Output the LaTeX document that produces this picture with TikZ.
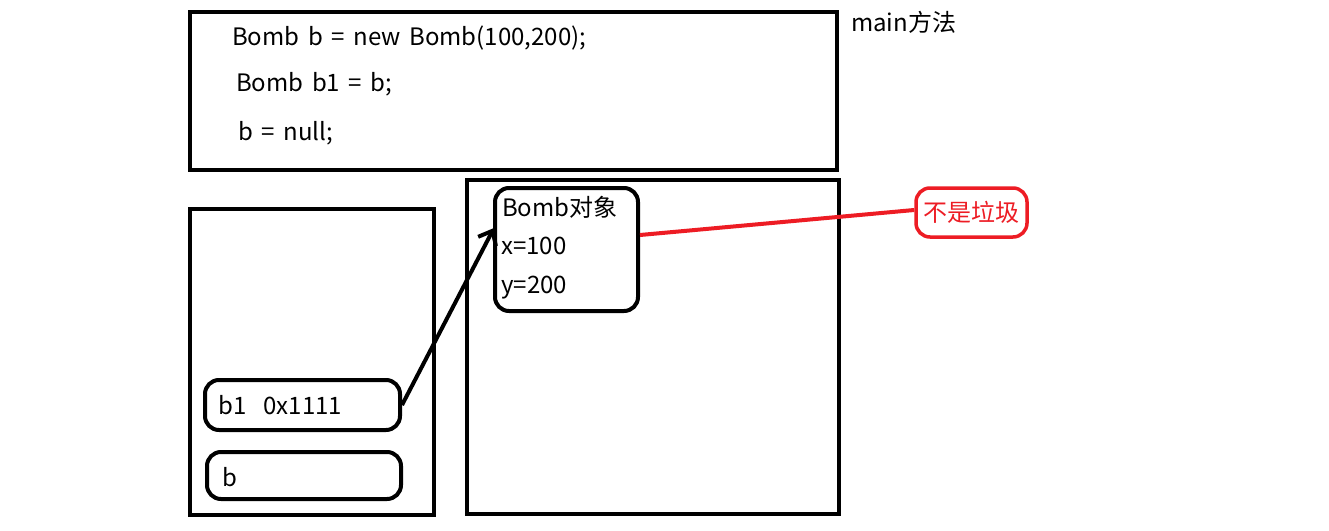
\documentclass[tikz,border=0pt]{standalone}
\usepackage{fontspec}
\setmainfont{Noto Sans CJK SC}[WordSpace=1.6]
\usetikzlibrary{arrows.meta}

\definecolor{paintred}{RGB}{237,28,36}
\tikzset{
    frame/.style={draw, line width=4pt},
    slot/.style={draw, line width=4pt, rounded corners=14pt, inner sep=0pt},
    txt/.style={anchor=west, inner sep=0pt, font=\fontsize{24}{28}\selectfont},
}

\begin{document}
\begin{tikzpicture}[x=1pt, y=-1pt]
    \useasboundingbox (0,0) rectangle (1329,530);
    \fill[white] (0,0) rectangle (1329,530);

    % Frames
    \node[frame, minimum width=647pt, minimum height=158pt] (mainbox) at (513.5,91) {};
    \node[frame, minimum width=372pt, minimum height=334pt] (heap) at (653,347) {};
    \node[frame, minimum width=244pt, minimum height=306pt] (stack) at (312,362) {};
    \node[txt] (mainlbl) at (851,22) {main方法};

    % Code lines
    \node[txt] (line1) at (232,38) {Bomb b = new Bomb(100,200);};
    \node[txt] (line2) at (236,84) {Bomb b1 = b;};
    \node[txt] (line3) at (238,133) {b = null;};

    % Object in the heap
    \node[slot, minimum width=143pt, minimum height=123pt] (bomb) at (566.5,249.5) {};
    \node[txt] (bombname) at (502,207) {Bomb对象};
    \node[txt] (bx) at (501,246) {x=100};
    \node[txt] (by) at (501,288) {y=200};

    % References on the stack
    \node[slot, minimum width=195pt, minimum height=50pt] (bone) at (302.5,405) {};
    \node[txt] (bonetxt) at (218,405) {b1\ \ 0x1111};
    \node[slot, minimum width=194pt, minimum height=47pt] (bnull) at (304,475.5) {};
    \node[txt] (bnulltxt) at (222,477) {b};

    % Not garbage
    \node[draw=paintred, text=paintred, line width=3.5pt, rounded corners=14pt,
          minimum width=111pt, minimum height=49pt, inner sep=0pt,
          font=\fontsize{24}{28}\selectfont] (nogc) at (971.5,212.5) {不是垃圾};

    % Connectors
    \coordinate (tip) at (494,228);
    \draw[line width=4pt, -{Straight Barb[length=12pt, width=20pt]}] (bone.east) -- (tip);
    \draw[paintred, line width=4pt] (bomb.east |- 0,235) -- (nogc.west |- 0,210);
\end{tikzpicture}
\end{document}
